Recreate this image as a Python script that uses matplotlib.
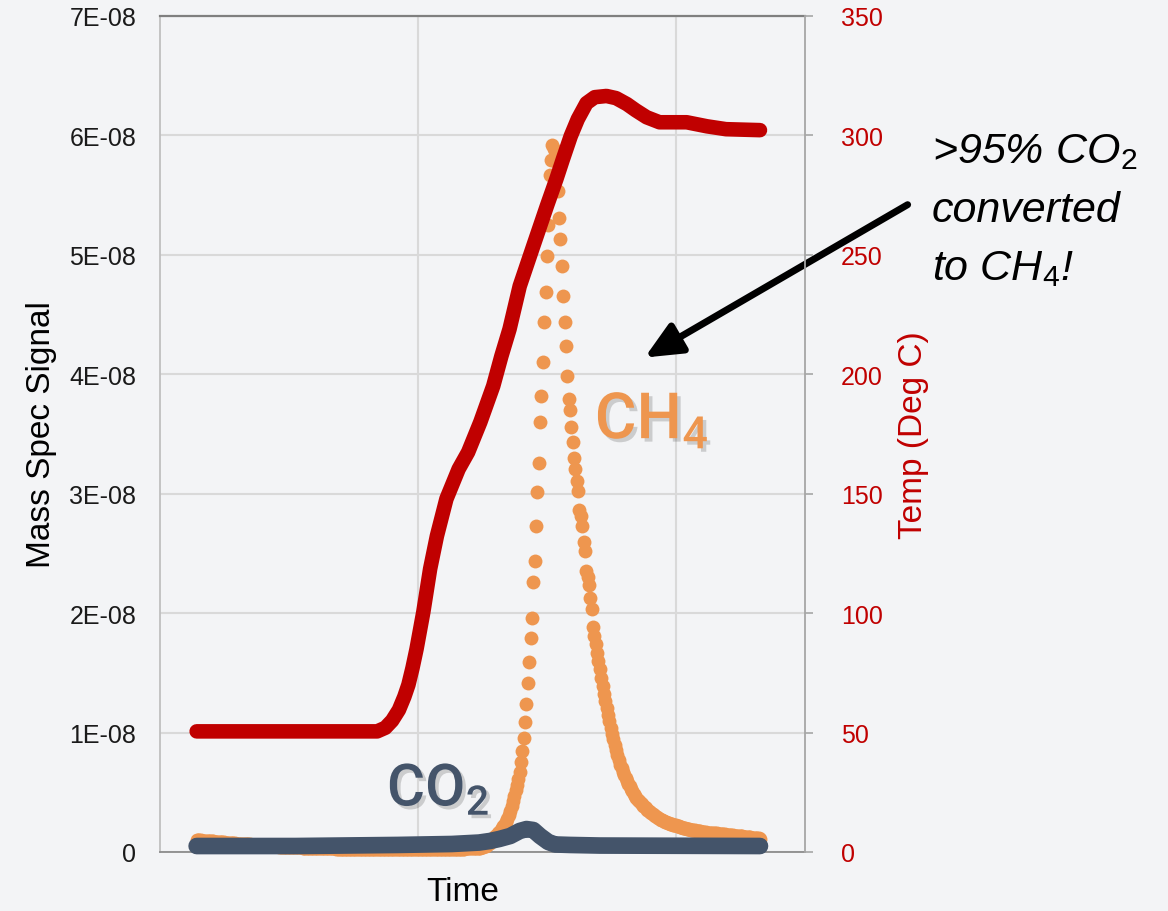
import numpy as np
import matplotlib
matplotlib.use("Agg")
import matplotlib.pyplot as plt
import matplotlib.patheffects as pe

plt.rcParams['font.family'] = ['Liberation Sans', 'DejaVu Sans']
plt.rcParams['mathtext.fontset'] = 'custom'
plt.rcParams['mathtext.rm'] = 'Liberation Sans'
plt.rcParams['mathtext.it'] = 'Liberation Sans:italic'

# CH4 mass spec signal, one value per sample (units of 1E-10)
ch4 = [
    10.0, 9.9, 9.8, 9.7, 9.6, 9.5, 9.4, 9.3, 9.2, 9.1, 9.0, 8.9, 8.8, 8.7, 8.6, 8.5, 8.4, 8.3, 8.2, 8.1,
    8.0, 7.9, 7.8, 7.7, 7.6, 7.5, 7.4, 7.3, 7.2, 7.1, 7.0, 6.9, 6.9, 6.8, 6.8, 6.7, 6.6, 6.5, 6.4, 6.3,
    6.2, 6.1, 6.0, 5.9, 5.8, 5.7, 5.6, 5.5, 5.4, 5.3, 5.3, 5.2, 5.1, 5.0, 5.0, 4.9, 4.8, 4.8, 4.7, 4.6,
    4.6, 4.5, 4.5, 4.4, 4.4, 4.3, 4.3, 4.2, 4.2, 4.1, 4.1, 4.0, 4.0, 3.9, 3.9, 3.8, 3.8, 3.8, 3.7, 3.7,
    3.6, 3.6, 3.6, 3.5, 3.5, 3.5, 3.4, 3.4, 3.4, 3.3, 3.3, 3.3, 3.2, 3.2, 3.2, 3.1, 3.1, 3.1, 3.1, 3.0,
    3.0, 3.0, 3.0, 2.9, 2.9, 2.9, 2.9, 2.9, 2.8, 2.8, 2.8, 2.8, 2.8, 2.7, 2.7, 2.7, 2.7, 2.7, 2.7, 2.6,
    2.6, 2.6, 2.6, 2.6, 2.6, 2.6, 2.6, 2.5, 2.5, 2.5, 2.5, 2.5, 2.5, 2.5, 2.5, 2.5, 2.5, 2.5, 2.5, 2.5,
    2.5, 2.5, 2.5, 2.5, 2.5, 2.5, 2.5, 2.5, 2.5, 2.5, 2.5, 2.5, 2.5, 2.5, 2.5, 2.5, 2.5, 2.5, 2.5, 2.5,
    2.5, 2.5, 2.5, 2.5, 2.5, 2.5, 2.5, 2.5, 2.5, 2.5, 2.5, 2.5, 2.5, 2.5, 2.5, 2.5, 2.5, 2.5, 2.5, 2.5,
    2.5, 2.5, 2.5, 2.5, 2.5, 2.6, 2.6, 2.6, 2.6, 2.7, 2.7, 2.7, 2.8, 2.8, 2.8, 2.9, 2.9, 2.9, 3.0, 3.0,
    3.0, 3.0, 3.0, 3.1, 3.1, 3.1, 3.2, 3.2, 3.3,
    3.3, 3.8, 4.2, 4.6, 5.0, 5.9, 6.7, 7.5, 8.8, 10.0, 11.7, 13.0, 14.2, 15.5, 16.7,
    18.4, 20.1, 21.8, 23.4, 25.1, 27.6, 31.0, 34.3, 38.5, 42.7, 46.9, 51.9, 56.1, 61.1,
    66.9, 75.3, 84.5, 95.4, 108.8, 123.8, 141.4, 159.0, 179.1, 195.8, 225.9, 243.5, 272.8,
    301.2, 325.5, 359.8, 381.6, 410.0, 443.5, 468.6, 498.7, 524.7, 566.5, 579.1, 591.6,
    588.3, 578.2, 566.5, 553.1, 530.5, 513.0, 490.4, 465.3, 443.5, 423.4, 398.3, 379.1,
    369.9, 355.6, 343.1, 329.7, 320.5, 310.4, 302.1, 286.2, 281.2, 272.8, 259.4, 251.9,
    235.1, 230.1, 223.4, 212.5, 203.3,
    188.3, 180.7, 174.1, 166.5, 159.8, 153.1, 145.6, 138.9, 132.2, 126.4, 120.5, 114.6,
    109.6, 103.8, 98.7, 94.6, 89.5, 85.4, 81.2, 77.0, 72.8, 70.3, 66.9, 64.4, 61.9, 59.4,
    56.9, 55.2, 52.7, 51.0, 48.5, 46.9, 45.2, 43.5, 42.7, 41.0, 40.2, 38.5, 37.7, 36.8,
    35.1, 34.3, 33.5, 32.6, 31.8, 31.0, 30.1, 29.3, 28.5, 27.6, 26.8, 26.4, 25.9,
    25.4, 25.0, 24.6, 24.2, 23.8, 23.4, 23.0, 22.6, 22.2, 21.8, 21.4, 21.0,
    20.7, 20.4, 20.1, 19.8, 19.5, 19.2, 18.9, 18.7, 18.5, 18.3, 18.1, 17.9, 17.7, 17.5,
    17.3, 17.1, 16.9, 16.7, 16.5, 16.3, 16.2, 16.1, 16.0, 15.9,
    15.8, 15.6, 15.5, 15.4, 15.2, 15.1, 15.0, 14.8, 14.7, 14.6, 14.4, 14.3, 14.2, 14.0,
    13.9, 13.8, 13.6, 13.5, 13.4, 13.2, 13.1, 13.0, 12.8, 12.7, 12.6, 12.4, 12.3, 12.2,
    12.0, 11.9, 11.8, 11.6, 11.5, 11.4, 11.2,
]
first_sample = 27

# CO2 signal (units of 1E-10)
co2_time = [27, 100, 175, 215, 235, 243, 250, 258, 265, 270, 275, 280, 286, 291, 302, 324, 442]
co2 = [5.0, 5.0, 5.9, 6.7, 7.9, 9.2, 10.9, 13.4, 17.6, 19.2, 18.4, 13.4, 8.4, 6.3, 5.9, 5.4, 5.0]

# reactor temperature (Deg C)
temp_time = [27, 160, 166, 171, 176, 180, 183, 186, 189, 194, 199, 204, 211, 220, 227, 236,
             245.5, 251.5, 257.5, 265, 275, 285, 292, 296.8, 302.6, 307.8, 314.2, 320.3,
             328.9, 336, 344, 350.5, 358.5, 368, 388, 403, 417, 442]
temp = [50.5, 50.5, 52.0, 55.0, 59.5, 65.0, 70.0, 77.0, 85.0, 100.5, 118.5, 132.3, 147.8,
        160.3, 167.4, 180.0, 195.1, 207.6, 218.9, 236.9, 253.7, 270.4, 281.7, 290.0, 299.7,
        306.8, 313.5, 316.0, 316.5, 315.6, 313.1, 310.5, 307.6, 305.5, 305.5, 303.8, 302.6,
        302.2]

signal_ticks = [0, 1e-08, 2e-08, 3e-08, 4e-08, 5e-08, 6e-08, 7e-08]
signal_labels = ['0', '1E-08', '2E-08', '3E-08', '4E-08', '5E-08', '6E-08', '7E-08']
temp_ticks = [0, 50, 100, 150, 200, 250, 300, 350]

bg = '#f3f4f6'
red = '#c00000'
orange = '#ee964f'
slate = '#44546a'

fig = plt.figure(figsize=(11.68, 9.12), dpi=100, facecolor=bg)
ax = fig.add_axes([0.137, 0.0647, 0.552, 0.9167])
ax.set_facecolor(bg)
ax2 = ax.twinx()

t_ch4 = np.arange(len(ch4)) + first_sample
ax.plot(t_ch4, np.array(ch4) * 1e-10, 'o', color=orange, ms=10, mew=0,
        clip_on=False, zorder=3)
ax.plot(co2_time, np.array(co2) * 1e-10, color=slate, lw=12,
        solid_capstyle='round', solid_joinstyle='round', clip_on=False, zorder=4)
ax2.plot(temp_time, temp, color=red, lw=10.5, solid_capstyle='round',
         solid_joinstyle='round', zorder=5)

ax.set_xlim(0, 475)
ax.set_ylim(0, 7e-08)
ax2.set_ylim(0, 350)
ax.set_xticks([190, 380])
ax.set_yticks(signal_ticks)
ax.set_yticklabels(signal_labels)
ax2.set_yticks(temp_ticks)

ax.grid(True, color='#d9d9d9', lw=1.5)
ax.set_axisbelow(True)
ax.tick_params(axis='x', length=0, labelbottom=False)
ax.tick_params(axis='y', length=0, pad=17, labelsize=18, labelcolor='#1a1a1a')
ax2.tick_params(axis='y', direction='out', length=6, width=1.2, color='#a6a6a6',
                pad=20, labelsize=18, labelcolor=red)

ax.spines['right'].set_visible(False)
ax.spines['top'].set_color('#7f7f7f')
ax.spines['top'].set_linewidth(1.6)
ax.spines['bottom'].set_color('#8c8c8c')
ax.spines['bottom'].set_linewidth(1.3)
ax.spines['left'].set_color('#bfbfbf')
ax.spines['left'].set_linewidth(1.3)
for side in ['left', 'top', 'bottom']:
    ax2.spines[side].set_visible(False)
ax2.spines['right'].set_color('#a6a6a6')
ax2.spines['right'].set_linewidth(1.3)

ax.set_ylabel('Mass Spec Signal', fontsize=24)
ax.yaxis.set_label_coords(-0.16, 0.5)
ax.set_xlabel('Time', fontsize=24)
ax.xaxis.set_label_coords(0.47, -0.029)
ax2.set_ylabel('Temp (Deg C)', fontsize=24, color=red)
ax2.yaxis.set_label_coords(1.145, 0.5)

# big species labels with a soft drop shadow
shadow = [pe.withSimplePatchShadow(offset=(2.5, -2.5), shadow_rgbFace='#555555', alpha=0.25)]
label_font = dict(family=['Roboto', 'DejaVu Sans'], weight='medium', ha='left', va='baseline',
                  path_effects=shadow, zorder=6)
ax.text(320.3, 3.46e-08, r'CH$_\mathregular{4}$', fontsize=46, color=orange, **label_font)
ax.text(167.2, 0.385e-08, r'CO$_\mathregular{2}$', fontsize=42, color=slate, **label_font)

note = dict(fontsize=31, style='italic', color='black', ha='left', va='baseline')
ax.text(568.5, 5.78e-08, r'>95% CO$_\mathit{2}$', **note)
ax.text(568.5, 5.28e-08, 'converted', **note)
ax.text(568.5, 4.795e-08, r'to CH$_\mathit{4}$!', **note)
ax.annotate('', xy=(357.1, 4.14e-08), xytext=(550.8, 5.42e-08),
            annotation_clip=False,
            arrowprops=dict(arrowstyle='-|>,head_length=1.1,head_width=0.5',
                            mutation_scale=20, lw=5, color='black',
                            shrinkA=0, shrinkB=0))

fig.savefig('out.png', dpi=100, facecolor=bg)
